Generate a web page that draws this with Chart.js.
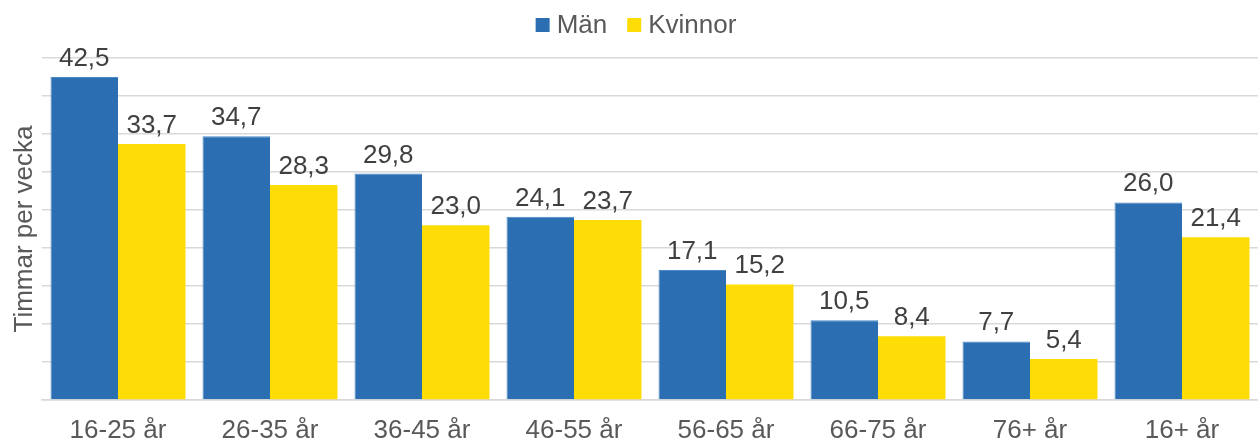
<!DOCTYPE html>
<html>
<head>
<meta charset="utf-8">
<script src="https://cdn.jsdelivr.net/npm/chart.js@4/dist/chart.umd.min.js"></script>
<style>
html,body{margin:0;padding:0;background:#fff;}
#wrap{width:1258px;height:444px;position:relative;}
</style>
</head>
<body>
<div id="wrap"><canvas id="c"></canvas></div>
<script>
const categories = ["16-25 år","26-35 år","36-45 år","46-55 år","56-65 år","66-75 år","76+ år","16+ år"];
const men = [42.5, 34.7, 29.8, 24.1, 17.1, 10.5, 7.7, 26.0];
const women = [33.7, 28.3, 23.0, 23.7, 15.2, 8.4, 5.4, 21.4];
const seriesNames = ["Män","Kvinnor"];
const seriesColors = ["#2b6fb2", "#fedc05"];
const yAxisTitle = "Timmar per vecka";

const FONT = "'Liberation Sans', Arial, sans-serif";

const valueLabels = {
  id: 'valueLabels',
  afterDatasetsDraw(chart) {
    const ctx = chart.ctx;
    ctx.save();
    ctx.font = "26px " + FONT;
    ctx.fillStyle = "#404040";
    ctx.textAlign = "center";
    ctx.textBaseline = "alphabetic";
    chart.data.datasets.forEach((ds, i) => {
      const meta = chart.getDatasetMeta(i);
      meta.data.forEach((bar, j) => {
        const txt = ds.data[j].toFixed(1).replace('.', ',');
        ctx.fillText(txt, bar.x, bar.y - 11);
      });
    });
    ctx.restore();
  }
};

const topLegend = {
  id: 'topLegend',
  afterDraw(chart) {
    const ctx = chart.ctx;
    ctx.save();
    ctx.font = "26px " + FONT;
    const box = 14, gapText = 7, gapItem = 20;
    const items = chart.data.datasets.map(ds => ({ text: ds.label, color: ds.backgroundColor, w: ctx.measureText(ds.label).width }));
    let total = 0;
    items.forEach((it, i) => { total += box + gapText + it.w + (i < items.length - 1 ? gapItem : 0); });
    let x = chart.width / 2 + 7 - total / 2;
    const baseline = 32.5;
    items.forEach(it => {
      ctx.fillStyle = it.color;
      ctx.fillRect(x, 18, box, box);
      x += box + gapText;
      ctx.fillStyle = '#595959';
      ctx.textAlign = 'left';
      ctx.textBaseline = 'alphabetic';
      ctx.fillText(it.text, x, baseline);
      x += it.w + gapItem;
    });
    ctx.restore();
  }
};

new Chart(document.getElementById('c'), {
  type: 'bar',
  data: {
    labels: categories,
    datasets: [
      { label: seriesNames[0], data: men, backgroundColor: seriesColors[0], borderColor: '#4a88c6', borderWidth: {top:1,left:1,right:0,bottom:0}, borderSkipped: 'bottom' },
      { label: seriesNames[1], data: women, backgroundColor: seriesColors[1], borderWidth: 0 }
    ]
  },
  options: {
    responsive: true,
    maintainAspectRatio: false,
    animation: false,
    devicePixelRatio: 1,
    layout: { padding: { left: 0, right: 0, top: 58, bottom: 0 } },
    datasets: { bar: { categoryPercentage: 0.888, barPercentage: 1.0 } },
    plugins: {
      tooltip: { enabled: false },
      legend: { display: false }
    },
    scales: {
      x: {
        grid: { display: false, drawTicks: false },
        border: { display: true, color: '#d9d9d9', width: 1.5 },
        ticks: { font: { family: FONT, size: 26 }, color: '#595959', padding: 15, maxRotation: 0, autoSkip: false },
        afterFit(scale) { scale.height = 44; }
      },
      y: {
        min: 0, max: 45,
        ticks: { display: false, stepSize: 5 },
        grid: { color: '#d9d9d9', lineWidth: 1.5, drawTicks: false },
        border: { display: false },
        title: { display: true, text: yAxisTitle, font: { family: FONT, size: 26 }, color: '#595959', padding: { top: 9, bottom: 0 } },
        afterFit(scale) { scale.width = 42; }
      }
    }
  },
  plugins: [valueLabels, topLegend]
});
</script>
</body>
</html>
